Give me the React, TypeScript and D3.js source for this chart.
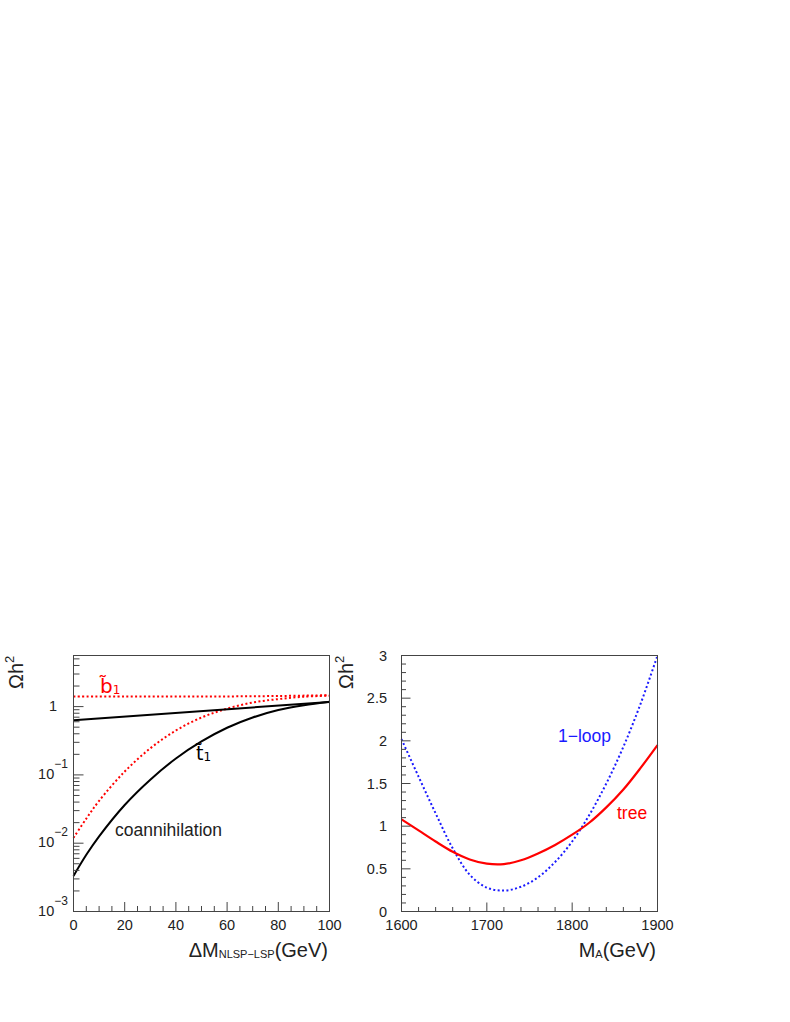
import React from "react";
import * as d3 from "d3";

// ---------- data ----------
const dmX = [0, 5, 10, 20, 30, 40, 50, 60, 70, 80, 90, 100];
const stauCoann = [0.00331, 0.00676, 0.0126, 0.0363, 0.0851, 0.174, 0.309, 0.49, 0.692, 0.891, 1.047, 1.175];
const sbotCoann = [0.012, 0.0229, 0.0417, 0.112, 0.245, 0.447, 0.692, 0.933, 1.148, 1.288, 1.396, 1.445];
const stauNoX = [0, 100];
const stauNo = [0.63, 1.17];
const sbotNoX = [0, 20, 40, 60, 80, 100];
const sbotNo = [1.41, 1.41, 1.41, 1.41, 1.43, 1.47];

const mA = [1600, 1620, 1640, 1660, 1680, 1700, 1720, 1740, 1760, 1780, 1800, 1820, 1840, 1860, 1880, 1900];
const treeVals = [1.08, 0.95, 0.82, 0.7, 0.61, 0.56, 0.555, 0.6, 0.68, 0.78, 0.9, 1.04, 1.22, 1.43, 1.68, 1.95];
const loopVals = [2.02, 1.58, 1.15, 0.74, 0.43, 0.28, 0.245, 0.29, 0.4, 0.58, 0.82, 1.13, 1.5, 1.93, 2.43, 3.0];

const leftXTicks = [0, 20, 40, 60, 80, 100];
const leftDecades = [-3, -2, -1, 0];
const rightXTicks = [1600, 1700, 1800, 1900];
const rightYTicks = [0, 0.5, 1, 1.5, 2, 2.5, 3];
const rightYLabels = ["0", "0.5", "1", "1.5", "2", "2.5", "3"];

const FONT = "'Liberation Sans', Arial, sans-serif";
const AX = "#444";
const TXT = "#222";

export default function App() {
  const lx = d3.scaleLinear().domain([0, 100]).range([73.5, 329.5]);
  const ly = d3.scaleLog().domain([1e-3, 5.6]).range([911.5, 655.5]);
  const rx = d3.scaleLinear().domain([1600, 1900]).range([401.5, 657.5]);
  const ry = d3.scaleLinear().domain([0, 3]).range([911.5, 655.5]);

  const curve = d3.curveCatmullRom.alpha(0.5);
  const lineL = (xs: number[], ys: number[]) =>
    d3
      .line<number>()
      .x((_, i) => lx(xs[i]))
      .y((d) => ly(d))
      .curve(curve)(ys) as string;
  const lineR = (ys: number[]) =>
    d3
      .line<number>()
      .x((_, i) => rx(mA[i]))
      .y((d) => ry(d))
      .curve(curve)(ys) as string;

  const lxMinor = d3.range(0, 101, 5).filter((v) => v % 20 !== 0);
  const lyMinor: number[] = [];
  for (let e = -3; e <= 0; e++) {
    for (let m = 2; m <= 9; m++) {
      const v = m * Math.pow(10, e);
      if (v <= 5.6) lyMinor.push(v);
    }
  }
  const rxMinor = d3.range(1600, 1901, 20).filter((v) => v % 100 !== 0);
  const ryMinor = d3.range(0, 31, 1).map((v) => v / 10).filter((v) => Math.round(v * 10) % 5 !== 0);

  return (
    <svg
      width={790}
      height={1022}
      style={{ position: "absolute", left: 0, top: 0, background: "#fff" }}
      fontFamily={FONT}
    >
      <rect x={0} y={0} width={790} height={1022} fill="#fff" />

      {/* ---------------- LEFT PANEL ---------------- */}
      <g>
        <path d={lineL(sbotNoX, sbotNo)} fill="none" stroke="#ff0000" strokeWidth={2} strokeDasharray="2,2.4" />
        <path d={lineL(dmX, sbotCoann)} fill="none" stroke="#ff0000" strokeWidth={2} strokeDasharray="2,2.4" />
        <path d={lineL(stauNoX, stauNo)} fill="none" stroke="#000" strokeWidth={2} />
        <path d={lineL(dmX, stauCoann)} fill="none" stroke="#000" strokeWidth={2} />

        <rect x={73.5} y={655.5} width={256} height={256} fill="none" stroke={AX} strokeWidth={1} />

        {leftXTicks.map((v) => (
          <line key={"lxM" + v} x1={lx(v)} x2={lx(v)} y1={911.5} y2={902} stroke={AX} />
        ))}
        {lxMinor.map((v) => (
          <line key={"lxm" + v} x1={lx(v)} x2={lx(v)} y1={911.5} y2={906} stroke={AX} />
        ))}
        {leftXTicks.map((v) => (
          <text key={"lxl" + v} x={lx(v)} y={930} fontSize={14.5} textAnchor="middle" fill={TXT}>
            {v}
          </text>
        ))}

        {leftDecades.map((e) => (
          <line key={"lyM" + e} x1={73.5} x2={83.5} y1={ly(Math.pow(10, e))} y2={ly(Math.pow(10, e))} stroke={AX} />
        ))}
        {lyMinor.map((v, i) => (
          <line key={"lym" + i} x1={73.5} x2={79.5} y1={ly(v)} y2={ly(v)} stroke={AX} />
        ))}
        {leftDecades.map((e) =>
          e === 0 ? (
            <text key={"lyl" + e} x={53} y={ly(1) + 4} fontSize={14.5} textAnchor="middle" fill={TXT}>
              1
            </text>
          ) : (
            <text key={"lyl" + e} x={53} y={ly(Math.pow(10, e)) + 4} fontSize={14.5} textAnchor="middle" fill={TXT}>
              10
              <tspan dy={-11} fontSize={12}>
                {"\u2212" + -e}
              </tspan>
            </text>
          )
        )}

        <text transform="translate(23,689) rotate(-90)" fontSize={20} fill={TXT}>
          Ωh
          <tspan dy={-9} fontSize={13}>
            2
          </tspan>
        </text>

        <text x={328} y={957} fontSize={20} textAnchor="end" fill={TXT}>
          ΔM
          <tspan fontSize={11} dy={1}>
            NLSP−LSP
          </tspan>
          <tspan dy={-1}>(GeV)</tspan>
        </text>

        <text x={100} y={693} fontSize={20} fill="#ff0000" fontFamily="'DejaVu Sans', sans-serif">
          b̃
          <tspan fontSize={12} dy={1}>
            1
          </tspan>
        </text>
        <text x={196} y={760} fontSize={19} fill="#000" fontFamily="'DejaVu Sans', sans-serif">
          t̃
          <tspan fontSize={12} dy={1}>
            1
          </tspan>
        </text>
        <text x={115} y={836} fontSize={17.5} fill={TXT}>
          coannihilation
        </text>
      </g>

      {/* ---------------- RIGHT PANEL ---------------- */}
      <g>
        <path d={lineR(loopVals)} fill="none" stroke="#1a1aff" strokeWidth={2} strokeDasharray="2,2.4" />
        <path d={lineR(treeVals)} fill="none" stroke="#ff0000" strokeWidth={2.2} />

        <rect x={401.5} y={655.5} width={256} height={256} fill="none" stroke={AX} strokeWidth={1} />

        {rightXTicks.map((v) => (
          <line key={"rxM" + v} x1={rx(v)} x2={rx(v)} y1={911.5} y2={902.5} stroke={AX} />
        ))}
        {rxMinor.map((v) => (
          <line key={"rxm" + v} x1={rx(v)} x2={rx(v)} y1={911.5} y2={907} stroke={AX} />
        ))}
        {rightXTicks.map((v) => (
          <text key={"rxl" + v} x={rx(v)} y={930} fontSize={14.5} textAnchor="middle" fill={TXT}>
            {v}
          </text>
        ))}

        {rightYTicks.map((v) => (
          <line key={"ryM" + v} x1={401.5} x2={410.5} y1={ry(v)} y2={ry(v)} stroke={AX} />
        ))}
        {ryMinor.map((v) => (
          <line key={"rym" + v} x1={401.5} x2={406} y1={ry(v)} y2={ry(v)} stroke={AX} />
        ))}
        {rightYTicks.map((v, i) => (
          <text key={"ryl" + v} x={387} y={ry(v) + 5} fontSize={14.5} textAnchor="end" fill={TXT}>
            {rightYLabels[i]}
          </text>
        ))}

        <text transform="translate(353,689) rotate(-90)" fontSize={20} fill={TXT}>
          Ωh
          <tspan dy={-9} fontSize={13}>
            2
          </tspan>
        </text>

        <text x={656} y={957} fontSize={20} textAnchor="end" fill={TXT}>
          M
          <tspan fontSize={11} dy={1}>
            A
          </tspan>
          <tspan dy={-1}>(GeV)</tspan>
        </text>

        <text x={558} y={742} fontSize={17.5} fill="#1a1aff">
          1−loop
        </text>
        <text x={617} y={819} fontSize={17.5} fill="#ff0000">
          tree
        </text>
      </g>
    </svg>
  );
}
